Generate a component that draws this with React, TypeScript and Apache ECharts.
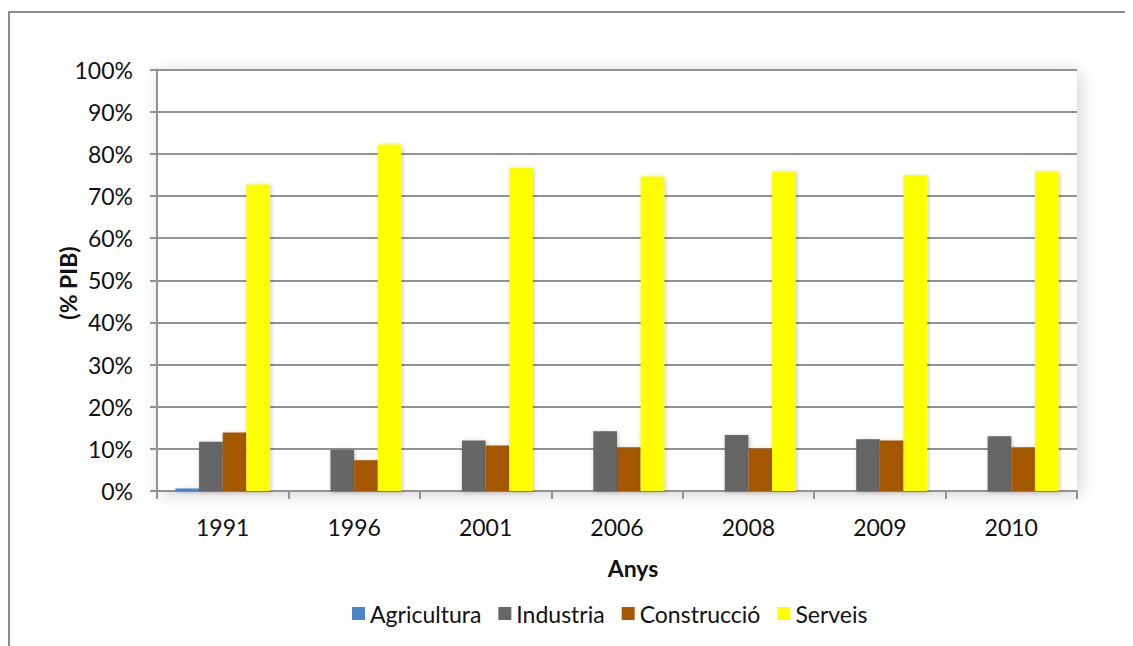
import React, { useEffect, useRef } from "react";
import * as echarts from "echarts";

const categories = ["1991", "1996", "2001", "2006", "2008", "2009", "2010"];
const agricultura = [0.6, 0, 0, 0, 0, 0, 0];
const industria = [11.7, 9.8, 12.0, 14.2, 13.3, 12.3, 13.0];
const construccio = [13.9, 7.3, 10.8, 10.4, 10.1, 12.0, 10.4];
const serveis = [72.7, 82.2, 76.7, 74.6, 75.8, 74.9, 75.8];
const seriesNames = ["Agricultura", "Industria", "Construcció", "Serveis"];
const seriesColors = ["#4a86c8", "#666666", "#a65800", "#ffff00"];

const FONT = "Lato";
const GREY = "#929292";

export default function App() {
  const ref = useRef<HTMLDivElement>(null);
  useEffect(() => {
    if (!ref.current) return;
    const chart = echarts.init(ref.current, null, { renderer: "svg" });
    const data = [agricultura, industria, construccio, serveis];
    chart.setOption({
      animation: false,
      backgroundColor: "#ffffff",
      textStyle: { fontFamily: FONT },
      grid: {
        left: 149,
        right: 56,
        top: 61.5,
        bottom: 155,
        show: true,
        backgroundColor: "#ffffff",
        borderWidth: 0,
        shadowBlur: 18,
        shadowColor: "rgba(0,0,0,0.18)",
        shadowOffsetX: 3,
        shadowOffsetY: 3,
      },
      legend: {
        left: 339,
        top: 589,
        itemWidth: 13,
        itemHeight: 13,
        itemGap: 17,
        icon: "rect",
        textStyle: { fontFamily: FONT, fontSize: 23, color: "#111" },
        data: seriesNames,
      },
      xAxis: {
        type: "category",
        data: categories,
        boundaryGap: true,
        axisLine: { lineStyle: { color: GREY, width: 2 } },
        axisTick: { show: true, length: 8, lineStyle: { color: GREY, width: 2 } },
        axisLabel: { fontFamily: FONT, fontSize: 23, color: "#111", margin: 24 },
      },
      yAxis: {
        type: "value",
        min: 0,
        max: 100,
        interval: 10,
        axisLine: { show: true, lineStyle: { color: GREY, width: 2 } },
        axisTick: { show: true, length: 7, lineStyle: { color: GREY, width: 2 } },
        axisLabel: {
          fontFamily: FONT,
          fontSize: 23,
          color: "#111",
          margin: 24,
          padding: [3, 0, 0, 0],
          formatter: "{value}%",
        },
        splitLine: { lineStyle: { color: GREY, width: 2 } },
      },
      graphic: [
        {
          type: "line",
          shape: { x1: 1, y1: 3, x2: 1, y2: 700 },
          style: { stroke: "#8c8c8c", lineWidth: 2 },
        },
        {
          type: "line",
          shape: { x1: 0, y1: 4, x2: 1200, y2: 4 },
          style: { stroke: "#8c8c8c", lineWidth: 2 },
        },
        {
          type: "text",
          x: 60,
          y: 275,
          rotation: Math.PI / 2,
          style: {
            text: "(% PIB)",
            fontFamily: FONT,
            fontSize: 23,
            fontWeight: "bold",
            fill: "#111",
            align: "center",
            verticalAlign: "middle",
          },
        },
        {
          type: "text",
          x: 625,
          y: 559.5,
          style: {
            text: "Anys",
            fontFamily: FONT,
            fontSize: 23,
            fontWeight: "bold",
            fill: "#111",
            align: "center",
            verticalAlign: "middle",
          },
        },
      ],
      series: seriesNames.map((name, i) => ({
        name,
        type: "bar",
        data: data[i],
        barGap: "0%",
        barCategoryGap: "28%",
        itemStyle: {
          color: seriesColors[i],
          shadowBlur: 4,
          shadowColor: "rgba(0,0,0,0.25)",
          shadowOffsetX: 1,
          shadowOffsetY: 1,
        },
      })),
    });
    return () => chart.dispose();
  }, []);
  return <div ref={ref} style={{ width: 1125, height: 638 }} />;
}
